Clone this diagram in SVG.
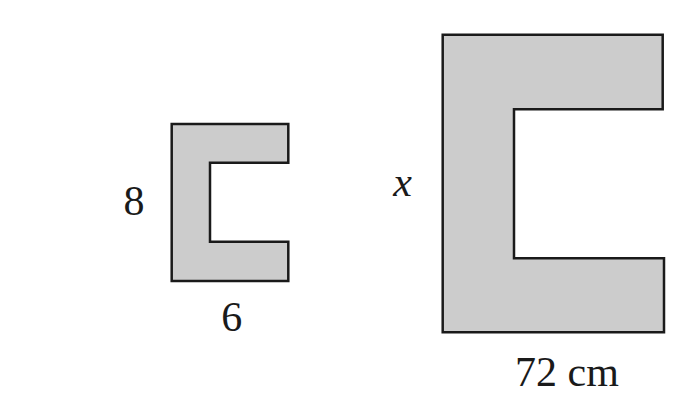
<svg xmlns="http://www.w3.org/2000/svg" width="681" height="399" viewBox="0 0 681 399">
<style>
.shape{fill:#cccccc;stroke:#1a1a1a;stroke-width:2.5;stroke-linejoin:miter}
.lbl{font-family:"Liberation Serif","Times New Roman",serif;font-size:42px;fill:#1a1a1a}
</style>
<rect width="681" height="399" fill="#ffffff"/>
<g id="small-shape">
<path class="shape" d="M171.7,124 H288.3 V162.7 H210 V241.7 H288.3 V281 H171.7 Z"/>
<text class="lbl" x="134" y="214.5" text-anchor="middle">8</text>
<text class="lbl" x="231.7" y="330.5" text-anchor="middle">6</text>
</g>
<g id="large-shape">
<path class="shape" d="M442.7,34.7 H662.7 V109.3 H514 V258.3 H664 V332.3 H442.7 Z"/>
<text class="lbl" x="402.5" y="196" text-anchor="middle" font-style="italic">x</text>
<text class="lbl" x="515" y="385.5">72 cm</text>
</g>
<g id="connectors"></g>
</svg>
